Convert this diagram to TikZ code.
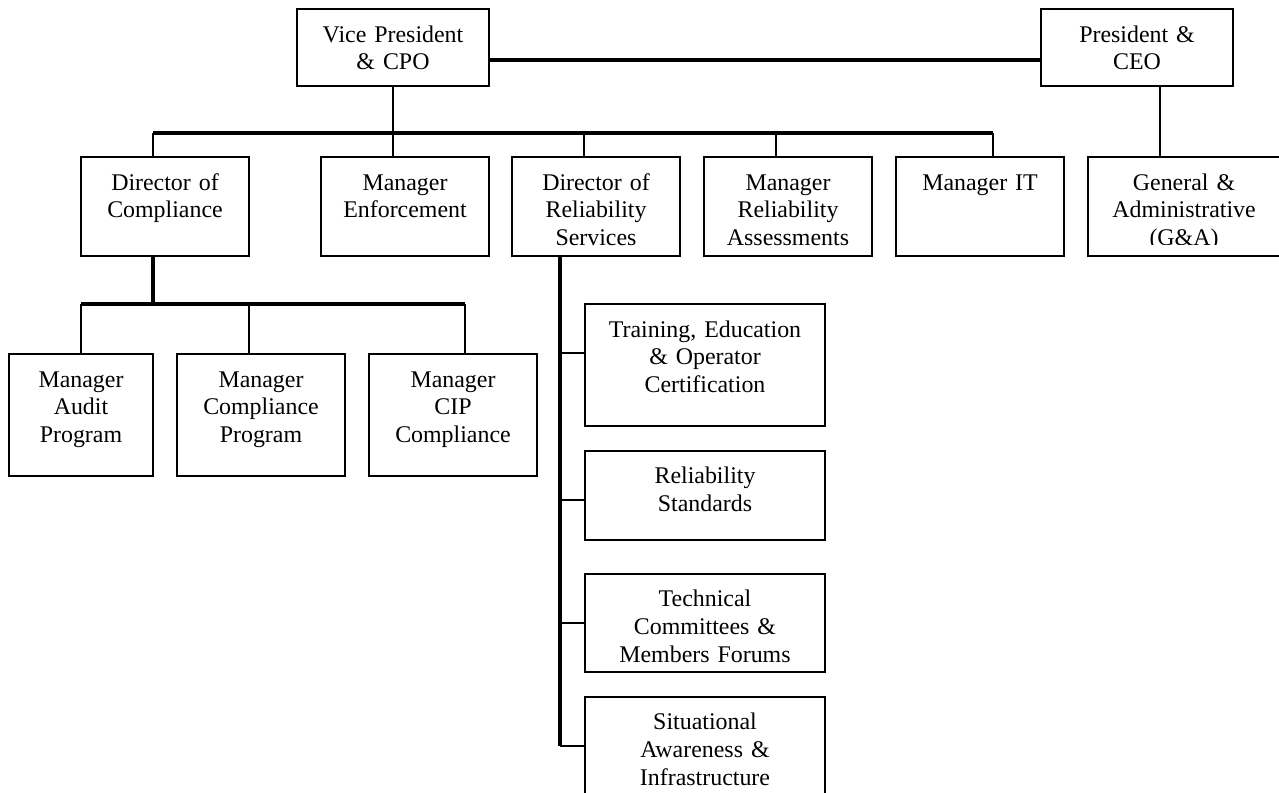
\documentclass[tikz,border=0pt]{standalone}
\usepackage{fontspec}
\setmainfont{Liberation Serif}
\usetikzlibrary{positioning}
\tikzset{
  unit/.style={draw, line width=1.1pt, align=center, anchor=north west,
               inner xsep=0pt, inner ysep=0pt, outer sep=0pt, text height=18.8pt,
               font=\fontsize{13.6}{15.9}\selectfont},
  topbox/.style={unit, text width=3.84cm, text depth=25pt},
  midbox/.style={unit, text width=3.36cm, text depth=37.5pt},
  lowbox/.style={unit, text width=3.36cm, text depth=50.6pt},
  svcbox/.style={unit, text width=4.8cm},
  thinline/.style={line width=1.1pt},
  thickline/.style={line width=2.7pt},
}
\begin{document}
\begin{tikzpicture}
  \useasboundingbox (0,0) rectangle (25.58,-15.86);

  % top level
  \node[topbox] (vp) at (5.94,-0.18) {Vice President\\\& CPO};
  \node[topbox] (ceo) at (20.82,-0.18) {President \&\\CEO};

  % second level
  \node[midbox] (doc) at (1.62,-3.14) {Director of\\Compliance};
  \node[midbox, right=1.44cm of doc] (men) {Manager\\Enforcement};
  \node[midbox, right=0.46cm of men] (drs) {Director of\\Reliability\\Services};
  \node[midbox, right=0.48cm of drs] (mra) {Manager\\Reliability\\Assessments};
  \node[midbox, right=0.48cm of mra] (mit) {Manager IT};
  \begin{scope}
    \clip (21,-3) rectangle (26,-4.9); % last line of the text is cut
    \node[midbox, text width=3.84cm, draw=none, right=0.48cm of mit] (ga) {General \&\\Administrative\\(G\&A)};
  \end{scope}
  \draw[thinline] (ga.north west) rectangle (ga.south east);

  % compliance
  \node[lowbox, text width=2.88cm] (aud) at (0.18,-7.08) {Manager\\Audit\\Program};
  \node[lowbox, right=0.48cm of aud] (cmp) {Manager\\Compliance\\Program};
  \node[lowbox, right=0.48cm of cmp] (cip) {Manager\\CIP\\Compliance};

  % reliability services
  \node[svcbox, text depth=50.6pt] (trn) at (11.7,-6.08) {Training, Education\\\& Operator\\Certification};
  \node[svcbox, text depth=31.8pt, below=0.5cm of trn] (std) {Reliability\\Standards};
  \node[svcbox, text depth=37pt, below=0.68cm of std] (tcm) {Technical\\Committees \&\\Members Forums};
  \node[svcbox, text depth=50.6pt, below=0.5cm of tcm] (sit) {Situational\\Awareness \&\\Infrastructure};

  % connectors
  \draw[thickline] ([yshift=-0.25cm]vp.east) -- ([yshift=-0.25cm]ceo.west);
  \coordinate[below=0.94cm of vp.south] (vpbar);
  \draw[thinline] (vp.south) -- (vpbar);
  \foreach \n/\dx in {doc/1.44,men/1.44,drs/1.44,mra/1.44,mit/1.94,ga/1.44}
    \coordinate (\n-in) at ([xshift=\dx cm]\n.north west);
  \draw[thickline] (doc-in |- vpbar) -- (mit-in |- vpbar);
  \foreach \n in {doc,men,drs,mra,mit}
    \draw[thinline] (\n-in) -- (\n-in |- vpbar);
  \draw[thinline] (ga-in) -- (ga-in |- ceo.south);

  \coordinate (doc-out) at ([xshift=1.44cm]doc.south west);
  \coordinate[below=0.96cm of doc-out] (docbar);
  \draw[thickline] (doc-out) -- (docbar);
  \foreach \n/\dx in {aud/1.44,cmp/1.44,cip/1.92}
    \coordinate (\n-in) at ([xshift=\dx cm]\n.north west);
  \draw[thickline] (aud-in |- docbar) -- (cip-in |- docbar);
  \foreach \n in {aud,cmp,cip}
    \draw[thinline] (\n-in) -- (\n-in |- docbar);

  \coordinate (drs-out) at ([xshift=0.96cm]drs.south west);
  \foreach \n in {trn,std,tcm,sit}
    \coordinate (\n-in) at ([yshift=-0.98cm]\n.north west);
  \draw[thickline] (drs-out) -- (drs-out |- sit-in);
  \foreach \n in {trn,std,tcm,sit}
    \draw[thinline] (\n-in) -- (\n-in -| drs-out);
\end{tikzpicture}
\end{document}
